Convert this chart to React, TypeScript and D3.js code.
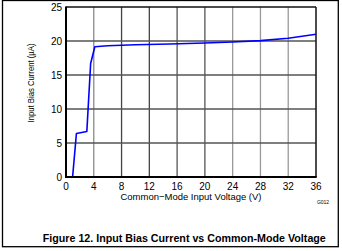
import React from "react";
import * as d3 from "d3";

const voltage = [0, 0.95, 1.5, 3.0, 3.55, 4.15, 6, 10, 15, 20, 24, 28, 32, 36];
const biasCurrent = [0, 0, 6.4, 6.7, 16.7, 19.15, 19.3, 19.45, 19.55, 19.7, 19.85, 20.05, 20.4, 21.0];
const xTicks = [0, 4, 8, 12, 16, 20, 24, 28, 32, 36];
const yTicks = [0, 5, 10, 15, 20, 25];
const gridX = [4, 8, 12, 16, 20, 24, 28, 32];
const gridXShade = ["#8a8a8a", "#444", "#444", "#555", "#555", "#999", "#999", "#999"];
const gridY = [5, 10, 15, 20];

export default function App() {
  const W = 342, H = 251;
  const L = 66, R = 316, T = 7, B = 177;
  const x = d3.scaleLinear().domain([0, 36]).range([L, R]);
  const y = d3.scaleLinear().domain([0, 25]).range([B, T]);
  const line = d3.line<number>().x((_, i) => x(voltage[i])).y((d) => y(d));
  const font = "Liberation Sans, Arial, sans-serif";
  return (
    <svg width={W} height={H} style={{ position: "absolute", left: 0, top: 0 }}>
      <rect x={0} y={0} width={W} height={H} fill="#fff" />
      <rect x={2.5} y={0.5} width={335.8} height={246.2} fill="none" stroke="#000" strokeWidth={1.3} />
      {gridX.map((v, i) => (
        <line key={"gx" + v} x1={x(v)} x2={x(v)} y1={T} y2={B} stroke={gridXShade[i]} strokeWidth={1.3} />
      ))}
      {gridY.map((v) => (
        <line key={"gy" + v} x1={L} x2={R} y1={y(v)} y2={y(v)} stroke="#555" strokeWidth={1.3} />
      ))}
      <line x1={L} x2={R} y1={T} y2={T} stroke="#111" strokeWidth={1.5} />
      <line x1={R} x2={R} y1={T} y2={B} stroke="#111" strokeWidth={1.5} />
      <path d={line(biasCurrent) || ""} fill="none" stroke="#0000ff" strokeWidth={1.6} strokeLinejoin="round" />
      <line x1={L} x2={L} y1={T - 0.5} y2={B + 1} stroke="#000" strokeWidth={2} />
      <line x1={L - 1} x2={R + 0.7} y1={B} y2={B} stroke="#000" strokeWidth={2} />
      {yTicks.map((v) => (
        <text key={"yt" + v} x={L - 4} y={y(v) + 3.6} textAnchor="end" fontFamily={font} fontSize={10} fill="#000">
          {v}
        </text>
      ))}
      {xTicks.map((v) => (
        <text key={"xt" + v} x={x(v)} y={B + 13} textAnchor="middle" fontFamily={font} fontSize={10} fill="#000">
          {v}
        </text>
      ))}
      <text x={191} y={200} textAnchor="middle" fontFamily={font} fontSize={9.5} fill="#000"
        textLength={141} lengthAdjust="spacingAndGlyphs">
        Common−Mode Input Voltage (V)
      </text>
      <text
        transform="translate(33.5, 83) rotate(-90)"
        textAnchor="middle"
        fontFamily={font}
        fontSize={9}
        fill="#000"
        textLength={79}
        lengthAdjust="spacingAndGlyphs"
      >
        Input Bias Current (µA)
      </text>
      <text x={323} y={204} textAnchor="middle" fontFamily={font} fontSize={5} fill="#000">
        G012
      </text>
      <text x={184.3} y={241.5} textAnchor="middle" fontFamily={font} fontSize={10.5} fontWeight="bold" fill="#000"
        textLength={283} lengthAdjust="spacingAndGlyphs">
        Figure 12. Input Bias Current vs Common-Mode Voltage
      </text>
    </svg>
  );
}
